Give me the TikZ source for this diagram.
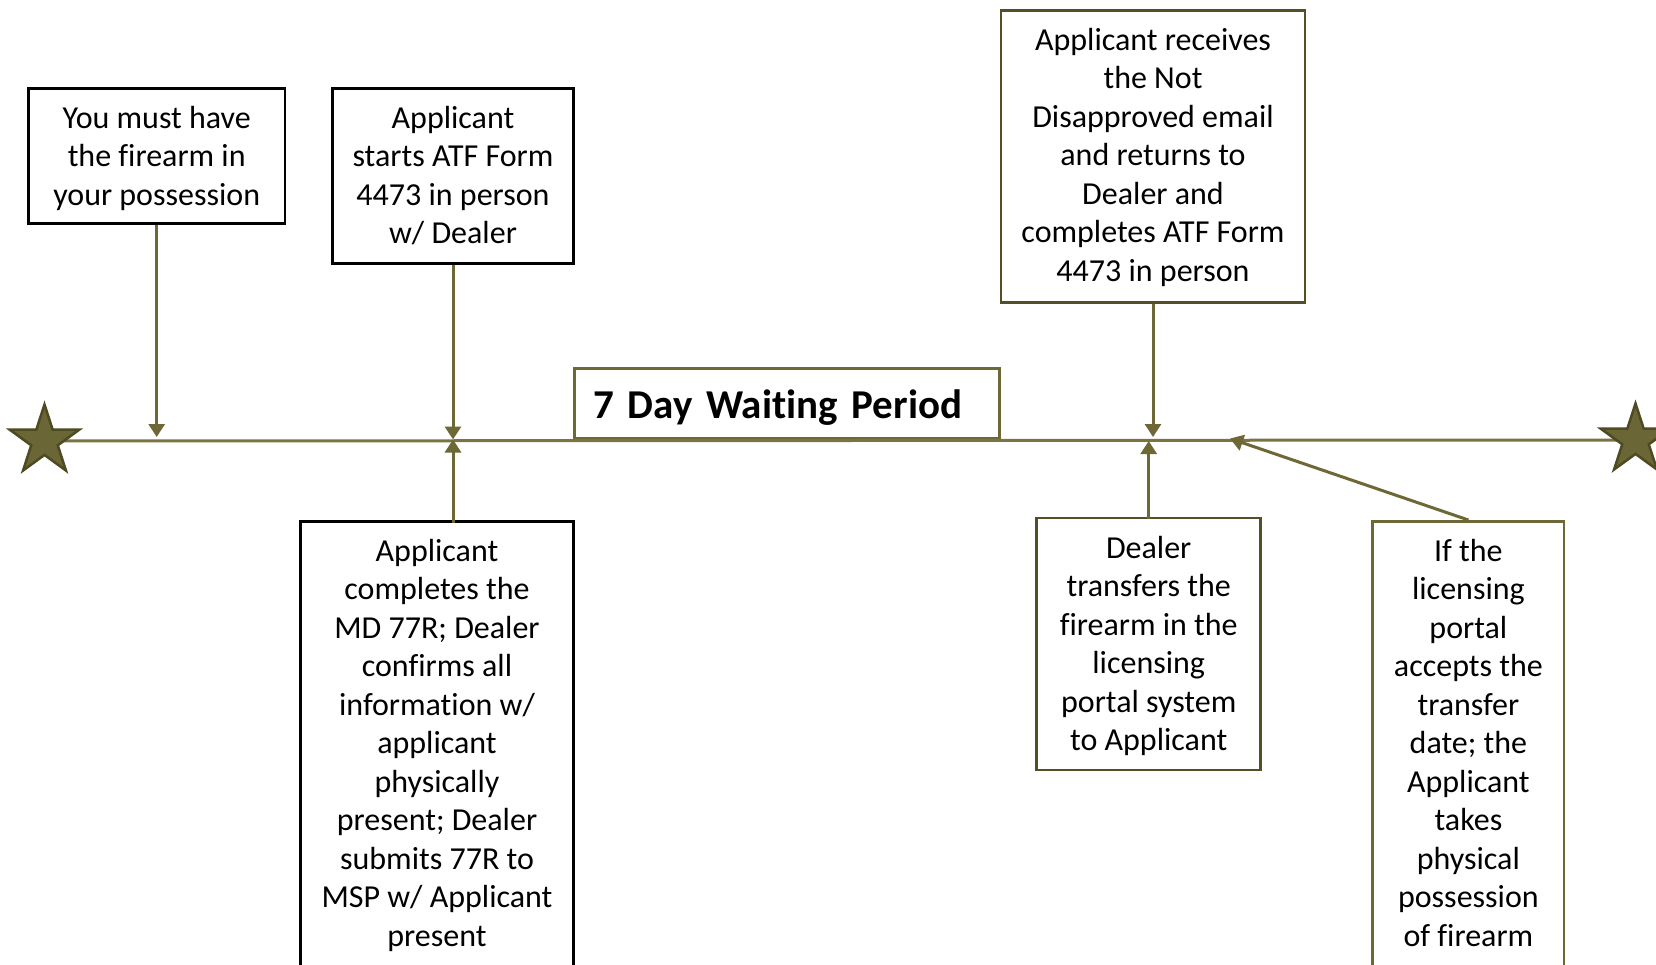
\documentclass[tikz,border=0pt]{standalone}
\usepackage{fontspec}
\setmainfont{Carlito}[Ligatures=NoCommon]
\usetikzlibrary{arrows.meta,shapes.geometric}

\definecolor{tlolive}{RGB}{122,116,66}
\definecolor{arrolive}{RGB}{110,104,54}
\definecolor{boxolive}{RGB}{84,79,38}
\definecolor{starfill}{RGB}{107,102,53}
\definecolor{starline}{RGB}{78,74,34}

\tikzset{
  box/.style={draw=black, line width=2.7pt, align=center, inner sep=0pt, fill=white, anchor=north,
    font=\fontsize{32}{38.5}\selectfont},
  darkbox/.style={box, draw=boxolive},
  olivebox/.style={box, draw=arrolive},
  arr/.style={arrolive, line width=3pt, -{Triangle[width=16pt,length=13pt]}},
  timeline/.style={draw=tlolive, line width=3pt},
  endstar/.style={star, star points=5, star point ratio=2.618, minimum size=73pt, inner sep=0pt,
    fill=starfill, draw=starline, line width=2.5pt}
}

\begin{document}
\begin{tikzpicture}[x=1pt, y=-1pt]
    \useasboundingbox (0,0) rectangle (1656,964);
    \clip (0,0) rectangle (1656,964);
    \fill[white] (0,0) rectangle (1656,964);

    \coordinate (start) at (44.5,441);
    \coordinate (finish) at (1635.5,440);

    % boxes above the line
    \node[box, minimum width=256.7pt, text height=117pt, text depth=18pt] at (156.7,87)(possess){You must have\\the firearm in\\your possession};
    \node[box, minimum width=241pt, text height=155.5pt, text depth=19.5pt] at (453,87)(starts){Applicant\\starts ATF Form\\4473 in person\\w/ Dealer};
    \node[darkbox, minimum width=304pt, text height=270.7pt, text depth=21pt] at (1153,9.3)(receives){Applicant receives\\the Not\\Disapproved email\\and returns to\\Dealer and\\completes ATF Form\\4473 in person};
    \node[olivebox, anchor=south west, minimum width=425pt, inner xsep=19pt, text height=50pt, text depth=20pt,
      text width=387pt, align=left, font=\fontsize{41}{50}\selectfont\bfseries] at (573,439.5)(waiting){7 Day Waiting Period};

    % boxes below the line
    \node[box, minimum width=272.6pt, text height=425pt, text depth=21pt] at (437,520)(completes){Applicant\\completes the\\MD 77R; Dealer\\confirms all\\information w/\\applicant\\physically\\present; Dealer\\submits 77R to\\MSP w/ Applicant\\present};
    \node[darkbox, minimum width=224pt, text height=233pt, text depth=19pt] at (1148.7,516.5)(transfers){Dealer\\transfers the\\firearm in the\\licensing\\portal system\\to Applicant};
    \node[olivebox, minimum width=191.3pt, text height=425pt, text depth=21pt] at (1468.4,520)(portal){If the\\licensing\\portal\\accepts the\\transfer\\date; the\\Applicant\\takes\\physical\\possession\\of firearm};

    \draw[timeline] (start) -- (finish);

    \node[endstar] at (start)(startstar){};
    \node[endstar] at (finish)(finishstar){};

    \coordinate (t1) at (156.7,437);
    \coordinate (t2) at (453,439.5);
    \coordinate (t3) at (1153,437);
    \coordinate (t4) at (1148.7,441);
    \coordinate (t5) at (1230,438.5);

    \path[arr]
        (possess) edge (t1)
        (starts) edge (t2)
        ([yshift=-3pt]starts.south |- completes.north) edge (t2)
        (receives) edge (t3)
        ([yshift=-2pt]transfers.north) edge (t4)
        (portal.north) edge (t5)
        ;
\end{tikzpicture}
\end{document}
